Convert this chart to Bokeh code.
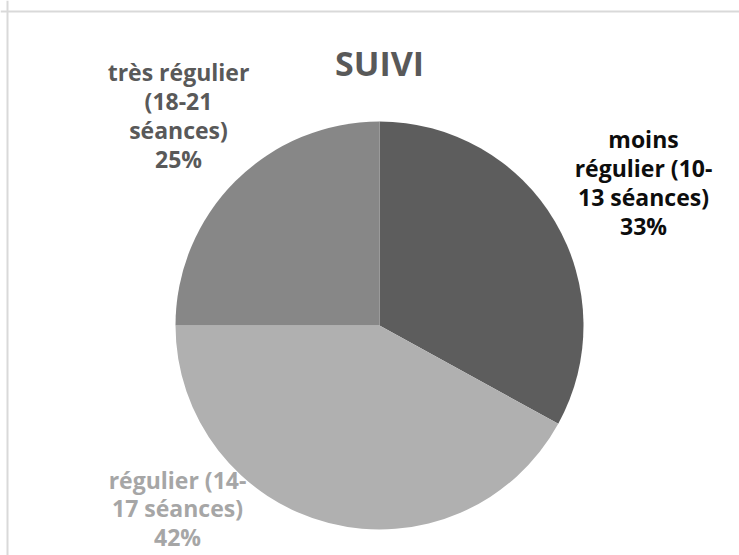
import math
from bokeh.plotting import figure
from bokeh.models import Range1d, ColumnDataSource, Span
from bokeh.core.properties import value
from bokeh.embed import file_html
from bokeh.resources import INLINE

# ---- data ----
title_text = "SUIVI"
categories = ["moins régulier (10-13 séances)",
              "régulier (14-17 séances)",
              "très régulier (18-21 séances)"]
label_texts = ["moins\nrégulier (10-\n13 séances)",
               "régulier (14-\n17 séances)",
               "très régulier\n(18-21\nséances)"]
values = [33, 42, 25]

# ---- style / layout ----
slice_colors = ["#5d5d5d", "#b0b0b0", "#878787"]
label_colors = ["#0d0d0d", "#a6a6a6", "#595959"]
W, H = 739, 555
cx, cy, R = 379, H - 325, 204
label_pos = [(643, H - 182), (177, H - 508), (178, H - 115)]
FONT = "Open Sans"

p = figure(width=W, height=H, output_backend="svg", toolbar_location=None,
           x_range=Range1d(0, W), y_range=Range1d(0, H), min_border=0,
           tools="")
p.axis.visible = False
p.grid.visible = False
p.outline_line_color = None
p.background_fill_color = "white"
p.border_fill_color = "white"

total = sum(values)
starts, ends = [], []
acc = 0.0
for v in values:
    starts.append(math.pi / 2 - 2 * math.pi * acc / total)
    acc += v
    ends.append(math.pi / 2 - 2 * math.pi * acc / total)

src = ColumnDataSource(dict(cat=categories, val=values, start=starts, end=ends,
                            color=slice_colors))
p.wedge(x=cx, y=cy, radius=R, start_angle="start", end_angle="end",
        direction="clock", fill_color="color", line_color=None, source=src)

lsrc = ColumnDataSource(dict(
    x=[pos[0] for pos in label_pos], y=[pos[1] for pos in label_pos],
    text=[f"{t}\n{v}%" for t, v in zip(label_texts, values)],
    color=label_colors))
p.text(x="x", y="y", text="text", text_color="color", source=lsrc,
       text_font=value(FONT), text_font_size="23px", text_font_style="bold",
       text_align="center", text_baseline="middle", text_line_height=0.9)

p.text(x=[cx], y=[H - 62], text=[title_text], text_color="#595959",
       text_font=value(FONT), text_font_size="34px", text_font_style="bold",
       text_align="center", text_baseline="middle")

# chart area border (top and left edges visible in the window)
p.add_layout(Span(location=H - 11, dimension="width", line_color="#d9d9d9", line_width=2))
p.add_layout(Span(location=7, dimension="height", line_color="#d9d9d9", line_width=2))

open("out.html", "w").write(file_html(p, INLINE))
